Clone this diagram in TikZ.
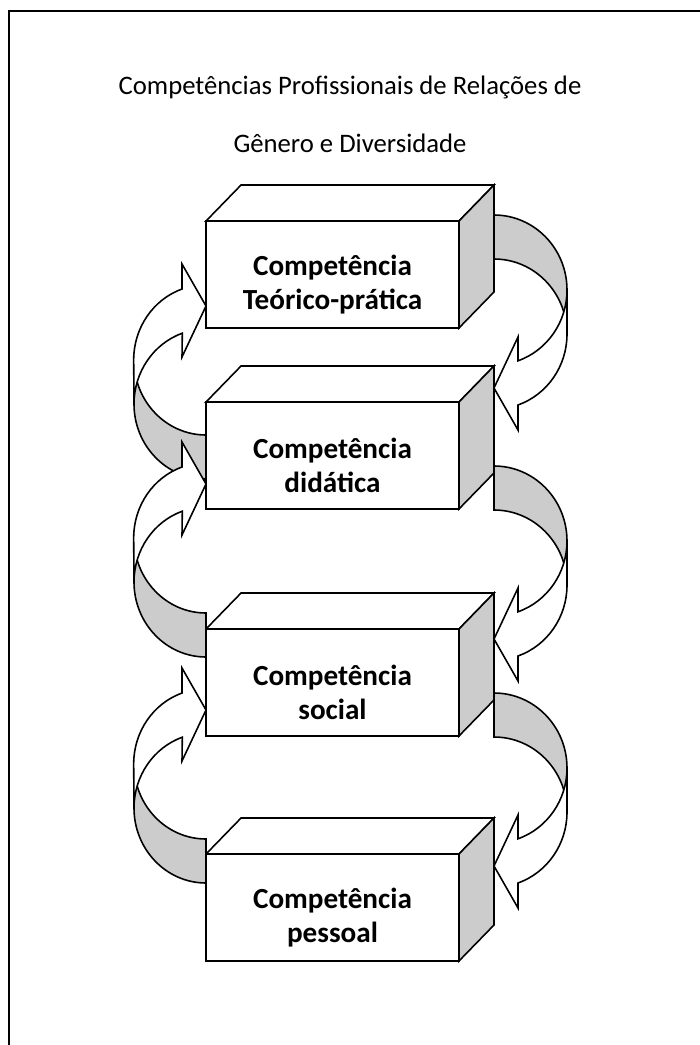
\documentclass[tikz,border=0pt]{standalone}
\usepackage{fontspec}
\setmainfont{Carlito}
\usetikzlibrary{positioning}

\tikzset{
  front/.style={draw, fill=white, line width=0.9pt, outer sep=0pt,
    minimum width=5.06cm, minimum height=2.14cm, inner sep=0pt},
  topface/.style={draw, fill=white, line width=0.9pt, line join=miter},
  sideface/.style={draw, fill=black!20, line width=0.9pt, line join=miter},
  ribbon/.style={draw, fill=black!20, line width=0.9pt},
  arrowbody/.style={draw, fill=white, line width=0.9pt, line join=miter},
  boxtext/.style={align=center, font=\fontsize{16.6}{19.3}\selectfont\bfseries},
  titletext/.style={font=\fontsize{15.2}{18}\selectfont}
}

% curved arrow on the right, #1 = top of the ribbon
\newcommand{\loopright}[1]{%
  \filldraw[ribbon] (494,-#1) arc[start angle=90, end angle=0, x radius=73, y radius=75]
    -- (567,{-#1-119}) arc[start angle=0, end angle=90, x radius=73, y radius=75] -- cycle;
  \filldraw[arrowbody] (567,{-#1-75}) arc[start angle=0, end angle=-70.8, x radius=73, y radius=75]
    -- (518,{-#1-122}) -- (494,{-#1-173}) -- (518,{-#1-215}) -- (518,{-#1-190})
    arc[start angle=-70.8, end angle=0, x radius=73, y radius=75] -- cycle;
}
% curved arrow on the left, #1 = bottom of the ribbon
\newcommand{\loopleft}[1]{%
  \filldraw[ribbon] (206,-#1) arc[start angle=-90, end angle=-180, x radius=72, y radius=75]
    -- (134,{-#1+119}) arc[start angle=180, end angle=270, x radius=72, y radius=75] -- cycle;
  \filldraw[arrowbody] (134,{-#1+75}) arc[start angle=180, end angle=109.2, x radius=72, y radius=75]
    -- (182,{-#1+122}) -- (206,{-#1+173}) -- (182,{-#1+215}) -- (182,{-#1+190})
    arc[start angle=109.2, end angle=180, x radius=72, y radius=75] -- cycle;
}

\begin{document}
\begin{tikzpicture}[x=0.02cm, y=0.02cm]
  \useasboundingbox (0,0) rectangle (700,-1045);
  \fill[white] (0,0) rectangle (700,-1045);
  \draw[line width=1.1pt] (9,-1045) -- (9,-11) -- (700,-11);

  \node[titletext] (title1) at (350,-87) {Competências Profissionais de Relações de};
  \node[titletext] (title2) at (350,-143) {Gênero e Diversidade};

  % the four boxes
  \foreach \name/\ytop/\txt in {teorica/221/{Competência\\Teórico-prática},
      didatica/402/{Competência\\didática}, social/629/{Competência\\social},
      pessoal/854/{Competência\\pessoal}}{
    \node[front] (\name) at (332.5,{-\ytop-53.5}) {};
    \draw[topface] (\name.north west) -- ++(35,36) -- ++(253,0) -- (\name.north east) -- cycle;
    \draw[sideface] (\name.north east) -- ++(35,36) -- ++(0,-107) -- (\name.south east) -- cycle;
    \node[boxtext] (\name-label) at ([yshift=-0.2cm]\name.center) {\txt};
  }

  % arrows between the boxes
  \loopright{215}
  \loopleft{479}
  \loopright{466}
  \loopleft{657}
  \loopright{693}
  \loopleft{883}
\end{tikzpicture}
\end{document}
